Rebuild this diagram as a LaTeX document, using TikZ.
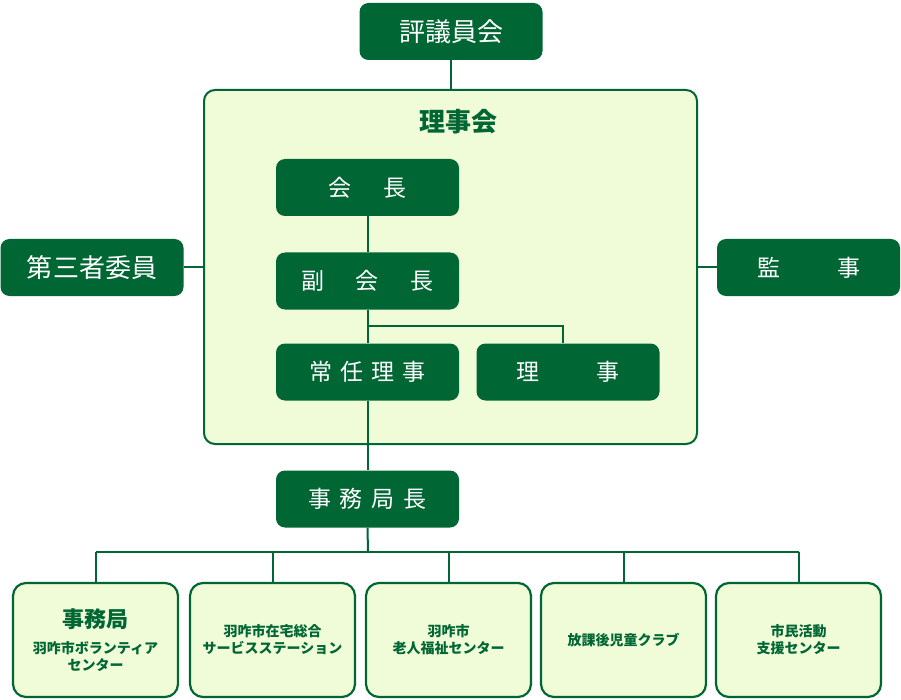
\documentclass[tikz,border=0pt]{standalone}
\usepackage{fontspec}
\setmainfont{Noto Sans CJK JP}
\usetikzlibrary{positioning, calc}
\definecolor{dkgreen}{RGB}{0,102,51}
\definecolor{ltgreen}{RGB}{240,252,216}
\tikzset{
  head/.style={fill=dkgreen, rounded corners=9pt, text=white, inner sep=0pt,
    minimum width=183pt, minimum height=57pt, font=\fontsize{23}{23}\selectfont},
  big/.style={font=\fontsize{26}{26}\selectfont},
  panel/.style={draw=dkgreen, line width=2pt, fill=ltgreen, rounded corners=11pt,
    inner sep=0pt, minimum width=493pt, minimum height=354pt},
  unit/.style={draw=dkgreen, line width=2.2pt, fill=ltgreen, rounded corners=13pt,
    inner sep=0pt, minimum width=165pt, minimum height=114pt, align=center,
    text=dkgreen, font=\bfseries\fontsize{14}{17}\selectfont},
  link/.style={draw=dkgreen, line width=2pt},
}

\begin{document}
\begin{tikzpicture}[x=1pt, y=-1pt]
  \useasboundingbox (0,0) rectangle (901,700);
  % board of directors
  \node[panel] (board) at (450.5,267) {};
  \node[text=dkgreen, font=\bfseries\fontsize{26}{26}\selectfont] (boardlabel) at (458,122) {理事会};
  \node[head, big] (council) at (451,31.5) {評議員会};
  \node[head] (chair) at (367.5,187.5) {会\hspace{32pt}長};
  \node[head] (vice) at (367.5,281) {副\hspace{32pt}会\hspace{32pt}長};
  \node[head] (standing) at (367.5,372) {常\hspace{8pt}任\hspace{8pt}理\hspace{8pt}事};
  \node[head] (director) at (568,372) {理\hspace{57pt}事};
  \node[head, big] (thirdparty) at (92,267.5) {第三者委員};
  \node[head] (auditor) at (808.5,267.5) {監\hspace{57pt}事};
  \node[head] (chief) at (367.5,499) {事\hspace{9pt}務\hspace{9pt}局\hspace{9pt}長};
  % offices
  \node[unit] (u1) at (95.5,640) {{\fontsize{22}{22}\selectfont 事務局}\\[9pt]羽咋市ボランティア\\センター};
  \node[unit] (u2) at (272.5,640) {羽咋市在宅総合\\サービスステーション};
  \node[unit] (u3) at (448.5,640) {羽咋市\\老人福祉センター};
  \node[unit] (u4) at (623.5,640) {放課後児童クラブ};
  \node[unit] (u5) at (798.5,640) {市民活動\\支援センター};
  % connectors
  \draw[link] (council.south) -- (council.south |- board.north);
  \draw[link] (thirdparty.east) -- (board.west |- thirdparty.east);
  \draw[link] (auditor.west) -- (board.east |- auditor.west);
  \draw[link] (chair.south) -- (vice.north);
  \draw[link] (vice.south) -- (standing.north);
  \coordinate (branch) at (563,326);
  \draw[link] (branch -| vice.south) -- (branch) -- (branch |- director.north);
  \draw[link] (standing.south) -- (chief.north);
  \coordinate (bus) at (368,552);
  \draw[link] (chief.south) -- (bus);
  \draw[link] (u1.north |- bus) -- (u5.north |- bus);
  \foreach \n in {u1,u2,u3,u4,u5}
    \draw[link] (\n.north |- bus) -- (\n.north);
\end{tikzpicture}
\end{document}
